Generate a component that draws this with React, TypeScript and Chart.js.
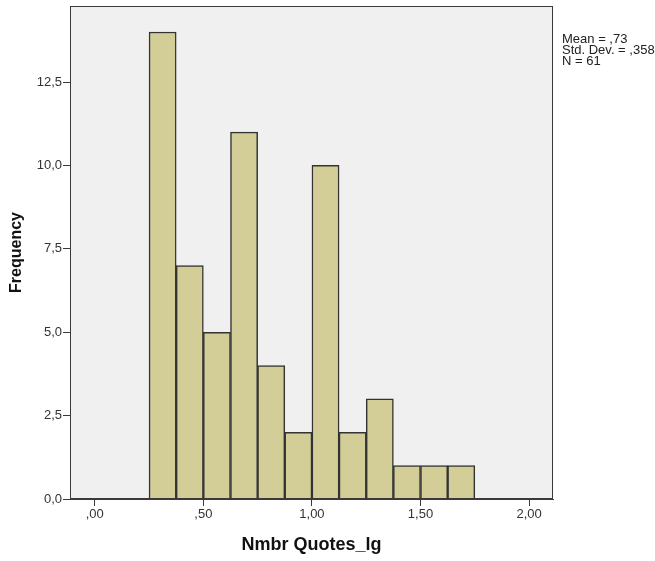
import React, { useEffect, useRef } from "react";
import { Chart, registerables } from "chart.js";

Chart.register(...registerables);

// Histogram bins (lower edge of each bin) and counts
const binStarts = [0.25, 0.375, 0.5, 0.625, 0.75, 0.875, 1.0, 1.125, 1.25, 1.375, 1.5, 1.625];
const binWidth = 0.125;
const counts = [14, 7, 5, 11, 4, 2, 10, 2, 3, 1, 1, 1];

const xTicks = [0, 0.5, 1.0, 1.5, 2.0];
const xTickLabels = [",00", ",50", "1,00", "1,50", "2,00"];
const yTicks = [0, 2.5, 5.0, 7.5, 10.0, 12.5];
const yTickLabels = ["0,0", "2,5", "5,0", "7,5", "10,0", "12,5"];

const statLines = ["Mean = ,73", "Std. Dev. = ,358", "N = 61"];

const xTitle = "Nmbr Quotes_lg";
const yTitle = "Frequency";

const FONT = "'Liberation Sans', Arial, sans-serif";

const framePlugin = {
  id: "frame",
  beforeDraw(chart: any) {
    const { ctx, chartArea } = chart;
    ctx.save();
    ctx.fillStyle = "#f0f0f0";
    ctx.fillRect(chartArea.left, chartArea.top, chartArea.right - chartArea.left, chartArea.bottom - chartArea.top);
    ctx.restore();
  },
  afterDraw(chart: any) {
    const { ctx, chartArea } = chart;
    ctx.save();
    ctx.strokeStyle = "#3a3a3a";
    ctx.lineWidth = 1;
    ctx.strokeRect(chartArea.left + 0.5, chartArea.top + 0.5, chartArea.right - chartArea.left - 1, chartArea.bottom - chartArea.top - 1);
    // summary statistics beside the plot
    ctx.fillStyle = "#222";
    ctx.font = `13px ${FONT}`;
    ctx.textBaseline = "middle";
    ctx.textAlign = "left";
    statLines.forEach((s, i) => {
      ctx.fillText(s, chartArea.right + 9, 39 + i * 11);
    });
    ctx.restore();
  },
};

export default function App() {
  const ref = useRef<HTMLCanvasElement | null>(null);

  useEffect(() => {
    document.body.style.margin = "0";
    const canvas = ref.current!;
    const chart = new Chart(canvas, {
      type: "bar",
      data: {
        datasets: [
          {
            data: counts.map((c, i) => ({ x: binStarts[i] + binWidth / 2, y: c })),
            backgroundColor: "#d3ce98",
            borderColor: "#333333",
            borderWidth: 1.5,
            barPercentage: 1,
            categoryPercentage: 1,
          },
        ],
      },
      options: {
        animation: false,
        responsive: false,
        maintainAspectRatio: false,
        layout: { padding: { top: 6, right: 102, left: 0, bottom: 0 } },
        plugins: { legend: { display: false }, tooltip: { enabled: false } },
        scales: {
          x: {
            type: "linear",
            offset: false,
            min: -0.114,
            max: 2.11,
            afterBuildTicks: (scale: any) => {
              scale.ticks = xTicks.map((v) => ({ value: v }));
            },
            afterFit: (scale: any) => {
              scale.height = 62;
              scale.paddingLeft = 0;
              scale.paddingRight = 0;
            },
            ticks: {
              autoSkip: false,
              maxRotation: 0,
              padding: 1,
              color: "#333",
              font: { family: FONT, size: 13 },
              callback: (v: any) => {
                const i = xTicks.indexOf(Number(v));
                return i >= 0 ? xTickLabels[i] : "";
              },
            },
            grid: { offset: false, drawOnChartArea: false, drawTicks: true, tickLength: 7, color: "#3a3a3a" },
            border: { display: true, color: "#3a3a3a", width: 1 },
            title: {
              display: true,
              text: xTitle,
              color: "#111",
              font: { family: FONT, size: 18, weight: "bold" },
              padding: { top: 0, bottom: 5 },
            },
          },
          y: {
            min: 0,
            max: 14.78,
            afterBuildTicks: (scale: any) => {
              scale.ticks = yTicks.map((v) => ({ value: v }));
            },
            afterFit: (scale: any) => {
              scale.width = 70;
              scale.paddingTop = 0;
              scale.paddingBottom = 0;
            },
            ticks: {
              autoSkip: false,
              padding: 1,
              color: "#333",
              font: { family: FONT, size: 13 },
              callback: (v: any) => {
                const i = yTicks.indexOf(Number(v));
                return i >= 0 ? yTickLabels[i] : "";
              },
            },
            grid: { offset: false, drawOnChartArea: false, drawTicks: true, tickLength: 7, color: "#3a3a3a" },
            border: { display: true, color: "#3a3a3a", width: 1 },
            title: {
              display: true,
              text: yTitle,
              color: "#111",
              font: { family: FONT, size: 16, weight: "bold" },
              padding: { top: 7, bottom: 0 },
            },
          },
        },
      },
      plugins: [framePlugin],
    } as any);
    return () => chart.destroy();
  }, []);

  return (
    <div style={{ width: 655, height: 561, background: "#fff" }}>
      <canvas ref={ref} width={655} height={561} style={{ display: "block" }} />
    </div>
  );
}
